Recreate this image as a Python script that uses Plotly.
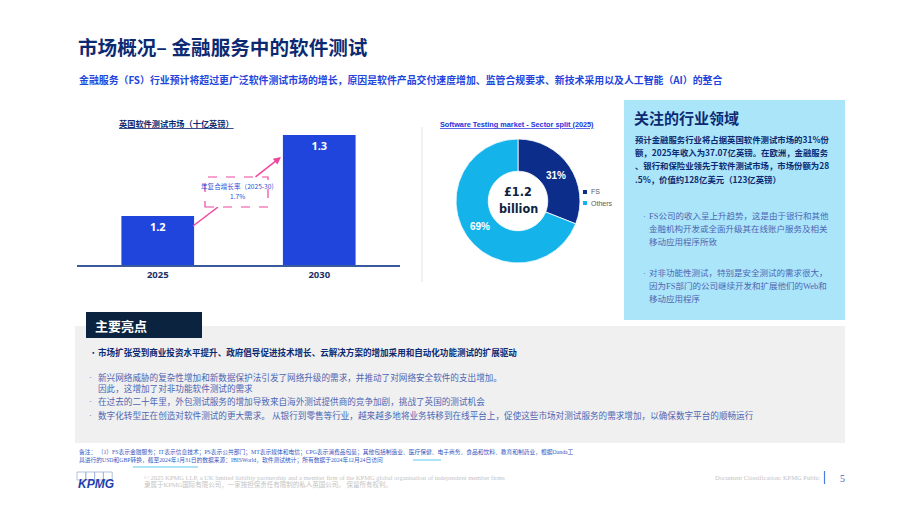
import plotly.graph_objects as go

# ---------------- data ----------------
years = ["2025", "2030"]
market_values = [1.2, 1.3]
cagr_text = ["年复合增长率（2025-30)", "1.7%"]

sectors = ["FS", "Others"]
sector_share = [31, 69]
donut_center = ["£1.2", "billion"]

title = "市场概况– 金融服务中的软件测试"
subtitle = "金融服务（FS）行业预计将超过更广泛软件测试市场的增长，原因是软件产品交付速度增加、监管合规要求、新技术采用以及人工智能（AI）的整合"
bar_title = "英国软件测试市场（十亿英镑）"
pie_title = "Software Testing market - Sector split (2025)"

focus_title = "关注的行业领域"
focus_para = ["预计金融服务行业将占据英国软件测试市场的31%份",
              "额，2025年收入为37.07亿英镑。在欧洲，金融服务",
              "、银行和保险业领先于软件测试市场，市场份额为28",
              ".5%，价值约128亿美元（123亿英镑）"]
focus_b1 = ["FS公司的收入呈上升趋势，这是由于银行和其他",
            "金融机构开发或全面升级其在线账户服务及相关",
            "移动应用程序所致"]
focus_b2 = ["对非功能性测试，特别是安全测试的需求很大，",
            "因为FS部门的公司继续开发和扩展他们的Web和",
            "移动应用程序"]

hl_title = "主要亮点"
hl_bold = "市场扩张受到商业投资水平提升、政府倡导促进技术增长、云解决方案的增加采用和自动化功能测试的扩展驱动"
hl_lines = [["新兴网络威胁的复杂性增加和新数据保护法引发了网络升级的需求，并推动了对网络安全软件的支出增加。",
             "因此，这增加了对非功能软件测试的需求"],
            ["在过去的二十年里，外包测试服务的增加导致来自海外测试提供商的竞争加剧，挑战了英国的测试机会"],
            ["数字化转型正在创造对软件测试的更大需求。 从银行到零售等行业，越来越多地将业务转移到在线平台上，促使这些市场对测试服务的需求增加，以确保数字平台的顺畅运行"]]

notes = ["备注： （1）FS表示金融服务；IT表示信息技术；PS表示公共部门；MT表示媒体和电信；CPG表示消费品包装；其他包括制造业、医疗保健、电子商务、食品和饮料、教育和制药业，根据Oanda工",
         "具进行的USD和GBP转换，截至2024年1月31日的数据来源：IBISWorld，软件测试统计；所有数据于2024年12月24日访问"]
footer = ["© 2025 KPMG LLP, a UK limited liability partnership and a member firm of the KPMG global organisation of independent member firms",
          "隶属于KPMG国际有限公司，一家按担保责任有限制的私人英国公司。 保留所有权利。"]
classification = "Document Classification: KPMG Public"
page_no = "5"

# ---------------- styling ----------------
W, H = 920, 518
CJK = "Noto Sans CJK SC"
SERIF = "Liberation Serif, Noto Sans CJK SC"
NAVY = "#0c2a72"
BLUE = "#1f45dd"
MUTED = "#4d66b3"
PINK = "#f0449e"
FS_COL = "#0c2d8a"
OTH_COL = "#14b4ea"


def px(x):
    return x / W


def py(y):
    return 1 - y / H


annotations = []
shapes = []


def txt(x, y, s, size, color, bold=False, family=CJK, xanchor="left", yanchor="middle", **kw):
    annotations.append(dict(x=px(x), y=py(y), xref="paper", yref="paper", text=s,
                            showarrow=False, xanchor=xanchor, yanchor=yanchor,
                            font=dict(family=family, size=size, color=color,
                                      weight="bold" if bold else "normal", **kw)))


def rect(x0, y0, x1, y1, fill=None, line=None, lw=0, dash=None, layer="below"):
    shapes.append(dict(type="rect", xref="paper", yref="paper",
                       x0=px(x0), x1=px(x1), y0=py(y1), y1=py(y0),
                       fillcolor=fill if fill else "rgba(0,0,0,0)",
                       line=dict(color=line if line else "rgba(0,0,0,0)", width=lw, dash=dash),
                       layer=layer))


def line(x0, y0, x1, y1, color, lw=1, layer="above"):
    shapes.append(dict(type="line", xref="paper", yref="paper",
                       x0=px(x0), x1=px(x1), y0=py(y0), y1=py(y1),
                       line=dict(color=color, width=lw), layer=layer))


fig = go.Figure()

# ---------------- bar chart ----------------
base_px, top_px = 265, 120
y_min = 1.1395
y_max = 1.3185
fig.add_trace(go.Bar(
    x=years, y=market_values, marker=dict(color=BLUE, line=dict(width=0)),
    text=[f"{v:.1f}" for v in market_values], textposition="inside",
    insidetextanchor="end", textfont=dict(family="Noto Sans", size=11, color="white", weight="bold"),
    cliponaxis=True, showlegend=False, hoverinfo="x+y"))

fig.update_layout(
    xaxis=dict(domain=[px(77), px(400)], showline=True, linecolor="#3a5aa0", linewidth=1.5,
               ticks="", showgrid=False, zeroline=False,
               tickfont=dict(family="Noto Sans", size=9.5, color="#1c2f66", weight="bold"),
               anchor="y"),
    yaxis=dict(domain=[py(base_px), py(top_px)], range=[y_min, y_max], visible=False,
               showgrid=False, zeroline=False),
    bargap=0.55,
)

# ---------------- donut ----------------
cx, cy, r = 518, 201, 62
fig.add_trace(go.Pie(
    labels=sectors, values=sector_share, hole=0.48, sort=False, direction="clockwise",
    rotation=0, marker=dict(colors=[FS_COL, OTH_COL], line=dict(color="white", width=0.8)),
    texttemplate="%{value}%", textposition="inside", insidetextorientation="horizontal",
    textfont=dict(family="Liberation Sans", size=10, color="white", weight="bold"),
    domain=dict(x=[px(cx - r), px(cx + r)], y=[py(cy + r), py(cy - r)]),
    showlegend=False))

CF = "Liberation Sans Narrow, DejaVu Sans Condensed, Liberation Sans"
txt(cx, 192, donut_center[0], 12.5, "#0c2340", bold=True, family=CF, xanchor="center")
txt(cx, 208, donut_center[1], 12.5, "#0c2340", bold=True, family=CF, xanchor="center")

# manual legend
for i, (lab, col) in enumerate(zip(sectors, [FS_COL, OTH_COL])):
    ly = 192 + i * 11
    rect(583, ly - 2, 587, ly + 2, fill=col, layer="above")
    txt(589, ly, lab, 7, "#595959", family="Liberation Sans")

# separator line
line(422, 127, 422, 282, "#e3e3e3", 1, layer="below")

# ---------------- titles ----------------
txt(76, 46, "<b>" + title + "</b>", 19.6, NAVY)
txt(77, 80, "<b>" + subtitle + "</b>", 9.9, BLUE)
txt(176, 123, "<b>" + bar_title + "</b>", 8.2, "#0c2a72", xanchor="center", lineposition="under")
txt(517, 125, "<b>" + pie_title + "</b>", 7.3, "#2233dd", family="Liberation Sans", xanchor="center", lineposition="under")

# ---------------- CAGR callout ----------------
line(193, 226, 218, 207, PINK, 1.5)
annotations.append(dict(x=px(281), y=py(157), xref="paper", yref="paper", ax=-27, ay=21,
                        axref="pixel", ayref="pixel", text="", showarrow=True,
                        arrowhead=2, arrowsize=1, arrowwidth=1.5, arrowcolor=PINK))
rect(205, 177, 268, 207, fill="white", line=PINK, lw=1.2, dash="dash", layer="above")
txt(237, 186, cagr_text[0], 6.6, "#2a50d8", xanchor="center")
txt(237, 196, cagr_text[1], 6.6, "#2a50d8", xanchor="center")

# ---------------- focus panel ----------------
rect(624, 100, 845, 320, fill="#abe5fa")
txt(632, 117, "<b>" + focus_title + "</b>", 15, NAVY)
for i, s in enumerate(focus_para):
    txt(633, 139 + i * 13.2, "<b>" + s + "</b>", 8.4, NAVY)
for block, y0 in [(focus_b1, 216), (focus_b2, 273)]:
    txt(641, y0, "·", 8.5, MUTED, family=SERIF)
    for i, s in enumerate(block):
        txt(647, y0 + i * 13.2, s, 8.5, MUTED, family=SERIF)

# ---------------- highlights ----------------
rect(75, 326, 845, 443, fill="#f0f0f0")
rect(86, 312, 202, 338, fill="#0c233f", layer="above")
txt(93, 325, "<b>" + hl_title + "</b>", 13, "white")
txt(87, 352, "·", 8.5, NAVY)
txt(96, 352, "<b>" + hl_bold + "</b>", 8.55, NAVY)
ys = [[377, 388.5], [401], [415]]
for block, yy in zip(hl_lines, ys):
    txt(87, yy[0], "·", 8.5, MUTED, family=SERIF)
    for s, y in zip(block, yy):
        txt(96, y, s, 8.6, MUTED, family=SERIF)

# ---------------- notes & footer ----------------
txt(77, 452, notes[0], 5.75, "#3556c0", family=SERIF)
txt(77, 459.5, notes[1], 5.75, "#3556c0", family=SERIF)
line(133, 467, 198, 467, "#5bc8f0", 1)
line(413, 460, 441, 460, "#5bc8f0", 1)

for i in range(4):
    rect(77 + i * 8.8, 472, 77 + (i + 1) * 8.8, 480, line="#9fb0d8", lw=0.8, layer="above")
txt(76, 484, "<b><i>KPMG</i></b>", 12, "#1e3fae", family="Liberation Sans")

txt(142, 477, footer[0], 6.5, "#c4c4c4", family=SERIF)
txt(142, 484, footer[1], 6.5, "#c4c4c4", family=SERIF)
txt(822, 477, classification, 6.5, "#c4c4c4", family=SERIF, xanchor="right")
line(824.5, 471, 824.5, 484, "#4a7de0", 1.2)
txt(842, 478, page_no, 10, "#4d66b3", family=SERIF, xanchor="center")

fig.update_layout(
    width=W, height=H, autosize=False,
    margin=dict(l=0, r=0, t=0, b=0),
    paper_bgcolor="white", plot_bgcolor="rgba(0,0,0,0)",
    annotations=annotations, shapes=shapes, showlegend=False,
    font=dict(family=CJK),
)

fig.write_html("out.html", config={"displayModeBar": False})
